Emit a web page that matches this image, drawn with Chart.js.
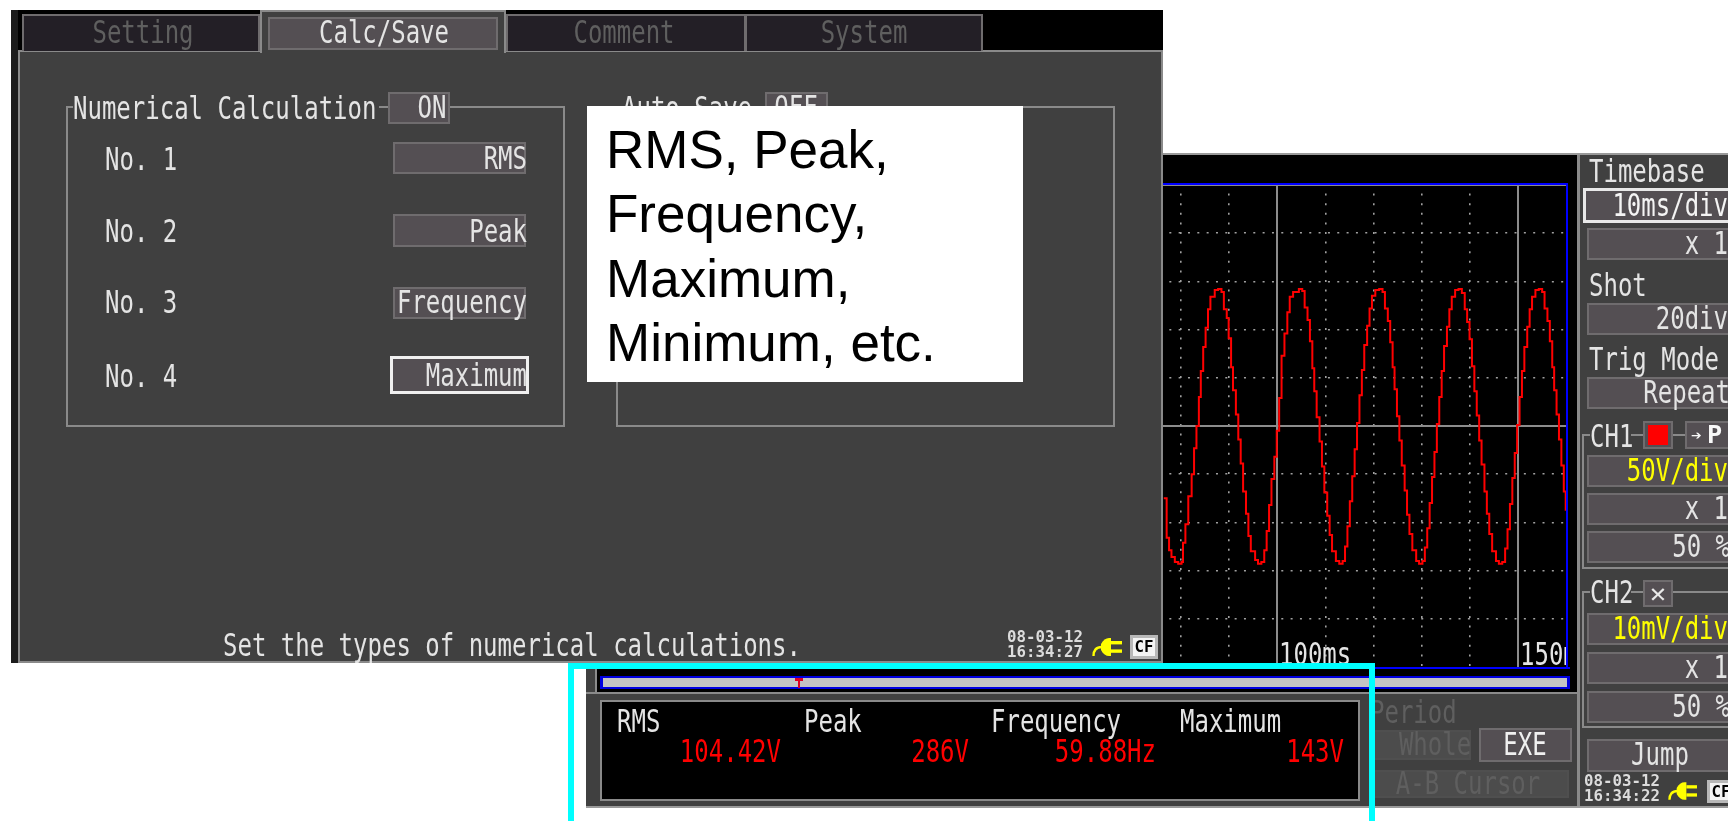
<!DOCTYPE html>
<html>
<head>
<meta charset="utf-8">
<title>Numerical calculation</title>
<script src="https://cdn.jsdelivr.net/npm/chart.js@4/dist/chart.umd.js"></script>
<style>
  html, body { margin: 0; padding: 0; background: #fff; }
  #page { position: relative; width: 1728px; height: 821px; overflow: hidden; background: #fff; }
  #page div, #page span, #page svg { position: absolute; box-sizing: border-box; }
  .t { white-space: pre; font-family: "DejaVu Sans Mono", monospace; filter: blur(0.35px); }
  #plot { left: 1133px; top: 185px; width: 434px; height: 482px; overflow: hidden; background: #000; }
  #note { left: 587px; top: 106px; width: 436px; height: 276px; background: #fff; color: #000;
          font: 53px/64.3px "Liberation Sans", Arial, sans-serif; padding: 12px 0 0 19px; white-space: pre; }
</style>
</head>
<body>
<div id="page"></div>
<script>
// trace, ms and volts at the corners of the steps
var timeMs = [76.4,77,77.5,78,78.7,79.4,80.1,80.4,80.9,81.5,82.2,82.7,83.2,83.7,84.1,84.6,85.1,85.6,86.1,87,87.7,
  88.4,88.9,89.5,89.9,90.4,90.8,91.4,91.9,92.4,92.9,93.5,94,94.5,95.4,96,96.7,97.3,97.8,98.3,98.8,99.4,99.9,
  100.4,100.9,101.5,102.1,102.6,103.3,104.5,105.2,105.7,106.3,106.8,107.3,107.7,108.2,108.8,109.3,109.8,110.4,110.9,111.4,112.2,112.9,
  113.6,114.1,114.6,115.1,115.6,116.1,116.6,117.1,117.6,118.1,118.7,119.2,119.7,120.4,121.2,121.9,122.4,123,123.5,124,124.4,124.9,
  125.4,125.9,126.5,127,127.5,128.1,128.9,129.5,130.2,130.7,131.2,131.7,132.2,132.7,133.2,133.7,134.2,134.7,135.3,135.8,136.3,137,137.7,
  138.4,139,139.5,140,140.5,141,141.5,142,142.5,143.1,143.6,144.1,144.7,145.5,146.1,146.8,147.4,147.9,148.4,148.9,149.4,149.9,
  150.4,150.9,151.4,152,152.5,153,153.7,154.4,155.1,155.6,156.2,156.7,157.2,157.6,158.1,158.6,159.1,159.6,160];
var ch1Volts = [-75,-116,-129,-136,-141,-143,-141,-121,-102,-73,-50,-23,0,30,57,82,102,121,134,141,142,
  139,121,112,91,61,37,12,-14,-39,-68,-91,-114,-130,-139,-143,-141,-129,-109,-82,-55,-32,-5,
  29,73,96,118,134,139,142,140,123,110,88,60,36,9,-16,-42,-69,-93,-113,-130,-140,-143,
  -140,-125,-104,-78,-52,-24,3,32,58,84,104,122,135,141,142,139,122,109,87,61,38,10,
  -15,-41,-67,-92,-112,-129,-140,-143,-140,-126,-106,-80,-53,-27,2,30,57,83,103,121,134,141,142,
  138,121,108,90,62,36,11,-15,-40,-68,-91,-112,-130,-140,-143,-141,-127,-107,-81,-54,-28,1,
  30,57,82,103,121,134,141,142,139,122,109,88,61,37,12,-14,-41,-68,-88];

var xMajorTicks = [100, 150];
var xTickLabels = ['100ms', '150ms'];
var tabNames = ['Setting', 'Calc/Save', 'Comment', 'System'];
var calcRows = ['No. 1', 'No. 2', 'No. 3', 'No. 4'];
var calcTypes = ['RMS', 'Peak', 'Frequency', 'Maximum'];
var resultLabels = ['RMS', 'Peak', 'Frequency', 'Maximum'];
var resultValues = ['104.42V', '286V', '59.88Hz', '143V'];

var page = document.getElementById('page');
var PANEL = '#404040', BTN = '#544f53', LINE = '#8a8a8a', BTN_LINE = '#6f6c6e', DIM = '#5f5f5f', TXT = '#e4e4e4';

function box(x, y, w, h, bg, border, parent) {
  var d = document.createElement('div');
  d.style.cssText = 'left:' + x + 'px;top:' + y + 'px;width:' + w + 'px;height:' + h + 'px;background:' + (bg || 'transparent') +
    ';' + (border ? 'border:2px solid ' + border + ';' : '');
  (parent || page).appendChild(d);
  return d;
}

// pixel font of the instrument: tall and narrow, so a mono font squeezed sideways
function txt(x, y, s, color, align, size, parent, bold) {
  var d = document.createElement('span');
  size = size || 32;
  y = y - 1;
  var sx = size == 32 ? 0.75 : 1.05;
  d.className = 't';
  d.textContent = s;
  var css = 'top:' + (y - size) + 'px;line-height:' + (size * 2) + 'px;font-size:' + size + 'px;color:' + (color || TXT) + ';';
  if (bold) css += 'font-weight:bold;';
  if (align == 'right') css += 'left:' + x + 'px;transform:translateX(-100%) scaleX(' + sx + ');transform-origin:100% 50%;';
  else if (align == 'center') css += 'left:' + x + 'px;transform:translateX(-50%) scaleX(' + sx + ');transform-origin:50% 50%;';
  else css += 'left:' + x + 'px;transform:scaleX(' + sx + ');transform-origin:0 50%;';
  d.style.cssText = css;
  (parent || page).appendChild(d);
}

function plug(x, y, w, h) {
  var s = document.createElementNS('http://www.w3.org/2000/svg', 'svg');
  s.setAttribute('viewBox', '0 0 30 20');
  s.style.left = x + 'px'; s.style.top = y + 'px'; s.style.width = w + 'px'; s.style.height = h + 'px';
  s.innerHTML = '<path d="M1.5 19 C1.5 13 4 10 10 10" stroke="#ffff00" stroke-width="2.4" fill="none"/>' +
    '<path d="M9 7 C11 3 14 1 17 1 L19 1 L19 19 L17 19 C14 19 11 17 9 13 Z" fill="#ffff00"/>' +
    '<rect x="19" y="4" width="11" height="3.4" fill="#ffff00"/><rect x="19" y="12.4" width="11" height="3.4" fill="#ffff00"/>';
  page.appendChild(s);
}

function cfBadge(x, y, w, h) {
  var b = box(x, y, w, h, '#f4f4f4', '#b8b8b8');
  b.style.borderWidth = '3px';
  txt(x + w / 2, y + h / 2 + 1, 'CF', '#000', 'center', 15, null, true);
}

function stamp(x, y, date, time) {
  txt(x, y, date, '#dcdcdc', 'left', 15, null, true);
  txt(x, y + 15, time, '#dcdcdc', 'left', 15, null, true);
}

// ---- scope window, behind everything else
box(1163, 153, 565, 655, '#000');
box(1163, 153, 565, 2, '#9a9a9a');
box(586, 663, 992, 145, PANEL);
box(595, 663, 983, 30, '#000');
box(595, 663, 2, 30, LINE);

var plotWrap = document.createElement('div');
plotWrap.id = 'plot';
page.appendChild(plotWrap);
var canvas = document.createElement('canvas');
canvas.id = 'scopeChart';
canvas.width = 434;
canvas.height = 482;
canvas.style.display = 'block';
plotWrap.appendChild(canvas);

var chart = new Chart(canvas, {
  type: 'line',
  data: {
    datasets: [{
      label: 'CH1',
      data: timeMs.map(function(t, i) { return { x: t, y: ch1Volts[i] }; }),
      borderColor: '#ff0000',
      borderWidth: 2,
      stepped: true,
      pointRadius: 0,
      fill: false
    }]
  },
  options: {
    responsive: false,
    animation: false,
    layout: { padding: 0 },
    plugins: {
      legend: { display: false },
      tooltip: { enabled: false }
    },
    scales: {
      x: {
        type: 'linear',
        min: 70,
        max: 160.27,
        ticks: { display: false, stepSize: 10 },
        border: {
          display: false,
          dash: function(c) { return xMajorTicks.indexOf(c.tick && c.tick.value) >= 0 ? [] : [2, 7.6]; },
          dashOffset: 1
        },
        grid: {
          drawTicks: false,
          lineWidth: function(c) { return xMajorTicks.indexOf(c.tick && c.tick.value) >= 0 ? 2 : 1.6; },
          color: function(c) {
            var v = c.tick && c.tick.value;
            if (v == 70 || v > 160) return 'transparent';
            return xMajorTicks.indexOf(v) >= 0 ? '#8c8c8c' : '#a0a0a0';
          }
        }
      },
      y: {
        min: -250,
        max: 250,
        ticks: { display: false, stepSize: 50 },
        border: {
          display: false,
          dash: function(c) { return c.tick && c.tick.value === 0 ? [] : [2, 7.33]; },
          dashOffset: 1
        },
        grid: {
          drawTicks: false,
          lineWidth: function(c) { return c.tick && c.tick.value === 0 ? 2 : 1.6; },
          color: function(c) {
            var v = c.tick && c.tick.value;
            if (Math.abs(v) == 250) return 'transparent';
            return v === 0 ? '#8c8c8c' : '#a0a0a0';
          }
        }
      }
    }
  }
});

// time labels sit inside the plot, next to their grid lines
xMajorTicks.forEach(function(v, i) {
  txt(chart.scales.x.getPixelForValue(v) + 2, 470, xTickLabels[i], TXT, 'left', 32, plotWrap);
});

// blue plot frame and the position strip
box(1163, 183, 405, 2, '#0000ff');
box(1163, 185, 403, 1, '#8c8c8c');
box(1566, 183, 2, 486, '#0000ff');
box(597, 667, 973, 2, '#0000ff');
box(600, 676, 970, 13, '#0000e0');
box(603, 678, 964, 9, '#c4c4c4');
box(798, 678, 2, 10, '#e00020');
box(795, 678, 8, 3, '#e00020');

// ---- bottom read-out
box(586, 692, 992, 2, LINE);
box(586, 806, 1142, 2, '#9a9a9a');
box(600, 700, 760, 101, '#000', LINE);
resultLabels.forEach(function(s, i) { txt([617, 804, 991, 1180][i], 722, s); });
resultValues.forEach(function(s, i) { txt([781, 969, 1156, 1344][i], 752, s, '#ff0000', 'right'); });
txt(1370, 713, 'Period', DIM);
box(1373, 730, 98, 30, '#4c4c4c', '#4f4f4f');
txt(1435, 745, 'Whole', DIM, 'center');
box(1479, 728, 93, 34, BTN, BTN_LINE);
txt(1525, 745, 'EXE', '#f0f0f0', 'center');
box(1373, 770, 196, 28, '#4c4c4c', '#4f4f4f');
txt(1468, 784, 'A-B Cursor', DIM, 'center');

// ---- right side panel
box(1577, 155, 151, 651, PANEL);
box(1577, 155, 3, 651, '#8a8a8a');
txt(1589, 172, 'Timebase');
box(1583, 188, 160, 35, BTN, '#e8e8e8').style.borderWidth = '3px';
txt(1728, 206, '10ms/div', '#f4f4f4', 'right');
box(1587, 228, 150, 32, BTN, BTN_LINE);
txt(1728, 244, 'x 1', TXT, 'right');
txt(1589, 286, 'Shot');
box(1587, 303, 150, 32, BTN, BTN_LINE);
txt(1728, 319, '20div', TXT, 'right');
txt(1589, 360, 'Trig Mode');
box(1587, 377, 150, 32, BTN, BTN_LINE);
txt(1730, 393, 'Repeat', TXT, 'right');

box(1582, 434, 160, 135, null, '#8a8a8a');
box(1590, 424, 41, 26, PANEL);
txt(1590, 437, 'CH1');
box(1643, 421, 30, 28, BTN, BTN_LINE);
box(1648, 425, 20, 20, '#ff0000');
box(1685, 421, 50, 28, BTN, BTN_LINE);
txt(1691, 436, '➔', '#f8f8f8', 'left', 17, null, true);
txt(1707, 436, 'P', '#f8f8f8', 'left', 24, null, true);
box(1587, 455, 150, 32, BTN, BTN_LINE);
txt(1728, 471, '50V/div', '#ffff00', 'right');
box(1587, 493, 150, 32, BTN, BTN_LINE);
txt(1728, 509, 'x 1', TXT, 'right');
box(1587, 531, 150, 32, BTN, BTN_LINE);
txt(1730, 547, '50 %', TXT, 'right');

box(1582, 591, 160, 137, null, '#8a8a8a');
box(1590, 582, 41, 24, PANEL);
txt(1590, 593, 'CH2');
box(1643, 580, 30, 27, BTN, BTN_LINE);
txt(1658, 594, '✕', '#e8e8e8', 'center', 26);
box(1587, 613, 150, 32, BTN, BTN_LINE);
txt(1728, 629, '10mV/div', '#ffff00', 'right');
box(1587, 652, 150, 32, BTN, BTN_LINE);
txt(1728, 668, 'x 1', TXT, 'right');
box(1587, 691, 150, 32, BTN, BTN_LINE);
txt(1730, 707, '50 %', TXT, 'right');

box(1587, 739, 150, 33, BTN, BTN_LINE);
txt(1660, 755, 'Jump', TXT, 'center');
stamp(1584, 782, '08-03-12', '16:34:22');
plug(1668, 781, 29, 20);
cfBadge(1707, 780, 28, 23);

// ---- settings window on top, left side
box(11, 10, 1152, 653, '#1c1c1c');
box(18, 10, 1145, 42, '#000');
box(18, 50, 1145, 613, PANEL, LINE);

[[22, 238], [506, 240], [745, 238]].forEach(function(t) {
  var d = box(t[0], 14, t[1], 37, '#231f26', BTN_LINE);
  d.style.borderBottom = '0';
});
var active = box(260, 10, 246, 43, PANEL, LINE);
active.style.borderBottom = '0';
box(268, 17, 230, 33, BTN, BTN_LINE);
txt(143, 33, tabNames[0], DIM, 'center');
txt(384, 33, tabNames[1], TXT, 'center');
txt(624, 33, tabNames[2], DIM, 'center');
txt(864, 33, tabNames[3], DIM, 'center');

box(66, 106, 499, 321, null, LINE);
box(73, 96, 306, 24, PANEL);
txt(73, 109, 'Numerical Calculation');
box(388, 92, 62, 32, BTN, BTN_LINE);
txt(432, 108, 'ON', TXT, 'center');

calcRows.forEach(function(s, i) { txt(105, [160, 232, 303, 377][i], s); });
box(393, 142, 133, 32, BTN, BTN_LINE);
box(393, 214, 133, 33, BTN, BTN_LINE);
box(393, 287, 133, 32, BTN, BTN_LINE);
var sel = box(390, 356, 139, 38, BTN, '#f0f0f0');
sel.style.borderWidth = '3px';
[159, 232, 303, 376].forEach(function(y, i) { txt(527, y, calcTypes[i], TXT, 'right'); });

box(616, 106, 499, 321, null, LINE);
box(622, 96, 140, 24, PANEL);
txt(622, 109, 'Auto Save');
box(765, 92, 63, 32, BTN, BTN_LINE);
txt(796, 108, 'OFF', TXT, 'center');

txt(223, 646, 'Set the types of numerical calculations.');
stamp(1007, 638, '08-03-12', '16:34:27');
plug(1092, 637, 30, 20);
cfBadge(1130, 635, 28, 24);

// ---- callout and cyan marker frame
var note = document.createElement('div');
note.id = 'note';
note.textContent = 'RMS, Peak,\nFrequency,\nMaximum,\nMinimum, etc.';
page.appendChild(note);

box(568, 663, 807, 6, '#00ffff');
box(568, 663, 6, 158, '#00ffff');
box(1369, 663, 6, 158, '#00ffff');
</script>
</body>
</html>
